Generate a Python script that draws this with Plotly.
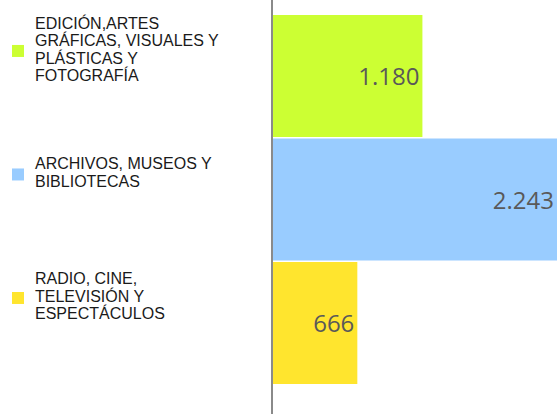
import plotly.graph_objects as go

categories = ["EDICIÓN,ARTES\nGRÁFICAS, VISUALES Y\nPLÁSTICAS Y\nFOTOGRAFÍA",
              "ARCHIVOS, MUSEOS Y\nBIBLIOTECAS",
              "RADIO, CINE,\nTELEVISIÓN Y\nESPECTÁCULOS"]
values = [1180, 2243, 666]
colors = ["#CCFF33", "#99CCFF", "#FFE52E"]
positions = [0, 1, 2]

W, H = 557, 414
axis_left = 273
label_x_px = 33
label_up_px = 27       # label block centre above bar centre
line_step_px = 17.4
square_up_px = 25
square_px = 12
square_x_px = 12

fig = go.Figure()
for i, (cat, val, col) in enumerate(zip(categories, values, colors)):
    fig.add_trace(go.Bar(
        x=[val], y=[positions[i]], orientation="h", name=cat.replace("\n", " "),
        marker=dict(color=col, line=dict(width=0)),
        width=0.988,
        text=[val], texttemplate="%{x:,}", textposition="inside",
        insidetextanchor="end",
        textfont=dict(family="Open Sans", size=24, color="#595959"),
        showlegend=False,
    ))
    lines = cat.split("\n")
    n = len(lines)
    for j, line in enumerate(lines):
        fig.add_annotation(
            x=label_x_px / W, xref="paper", xanchor="left",
            y=positions[i], yref="y", yanchor="middle",
            yshift=label_up_px - (j - (n - 1) / 2) * line_step_px,
            text=line, showarrow=False,
            font=dict(family="Liberation Sans, Arial", size=16, color="#1a1a1a"),
        )
    fig.add_shape(
        type="rect", xref="paper", yref="y",
        x0=square_x_px / W, x1=(square_x_px + square_px) / W,
        ysizemode="pixel", yanchor=positions[i],
        y0=square_up_px - square_px / 2, y1=square_up_px + square_px / 2,
        fillcolor=col, line=dict(width=0),
    )

fig.update_layout(
    width=W, height=H,
    margin=dict(l=0, r=0, t=0, b=0),
    paper_bgcolor="white", plot_bgcolor="white",
    separators=",.",
    showlegend=False,
    xaxis=dict(domain=[axis_left / W, 1], range=[0, 2243], showgrid=False,
               zeroline=False, showticklabels=False, ticks=""),
    yaxis=dict(range=[2.737, -0.615], showgrid=False, zeroline=False,
               showticklabels=False, ticks="", showline=True,
               linecolor="#8a8a8a", linewidth=1.5),
)

fig.write_html("out.html", config={"displayModeBar": False},
               post_script="document.body.style.margin='0';")
